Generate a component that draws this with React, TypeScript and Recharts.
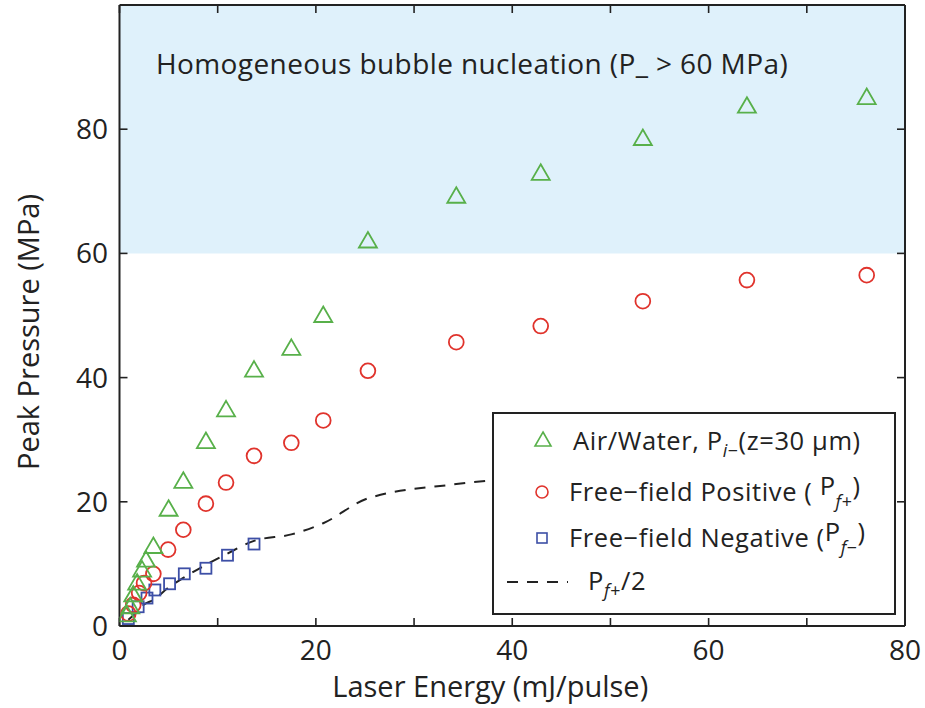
import React from 'react';
import { ComposedChart, Scatter, Line, XAxis, YAxis, ReferenceArea } from 'recharts';

const FONT = '"Open Sans", "DejaVu Sans", sans-serif';
const INK = '#222';
const GREEN = '#58b04a';
const RED = '#e0332c';
const BLUE = '#3d4fa6';
const REGION = '#dff1fb';

// Energies (mJ/pulse) and peak pressures (MPa)
const airWaterEnergy = [0.75, 1.1, 1.4, 1.8, 2.3, 2.7, 3.45, 5.0, 6.5, 8.8, 10.85, 13.7, 17.5, 20.75, 25.3, 34.3, 42.9, 53.3, 63.9, 76.1];
const airWaterPressure = [1.8, 3.1, 5.0, 6.9, 9.0, 10.6, 12.8, 18.8, 23.3, 29.7, 34.8, 41.2, 44.7, 50.0, 62.0, 69.2, 72.9, 78.5, 83.7, 85.1];

const positiveEnergy = [0.9, 1.4, 2.0, 2.5, 3.45, 4.95, 6.5, 8.8, 10.85, 13.7, 17.5, 20.75, 25.3, 34.3, 42.9, 53.3, 63.9, 76.1];
const positivePressure = [2.0, 3.4, 5.3, 6.9, 8.4, 12.3, 15.5, 19.7, 23.1, 27.4, 29.5, 33.1, 41.1, 45.7, 48.3, 52.3, 55.7, 56.5];

const negativeEnergy = [0.9, 1.9, 2.8, 3.6, 5.1, 6.6, 8.8, 11.0, 13.7];
const negativePressure = [1.2, 3.1, 4.5, 5.8, 6.8, 8.4, 9.3, 11.4, 13.2];

const halfEnergy = [0.9, 1.4, 2.0, 2.5, 3.45, 4.95, 6.5, 8.8, 10.85, 13.7, 17.5, 20.75, 25.3, 34.3, 42.9, 53.3, 63.9, 76.1];
const halfPressure = [1.0, 1.7, 2.65, 3.45, 4.2, 6.15, 7.75, 9.85, 11.55, 13.7, 14.75, 16.55, 20.55, 22.85, 24.15, 26.15, 27.85, 28.25];

const xTicks = [0, 10, 20, 30, 40, 50, 60, 70, 80];
const yTicks = [0, 20, 40, 60, 80];

const zip = (xs: number[], ys: number[]) => xs.map((x, i) => ({ x, y: ys[i] }));
const airWater = zip(airWaterEnergy, airWaterPressure);
const positive = zip(positiveEnergy, positivePressure);
const negative = zip(negativeEnergy, negativePressure);
const half = zip(halfEnergy, halfPressure);

const TriangleShape = (p: any) => {
  const { cx, cy } = p;
  if (cx == null || cy == null) return <g />;
  return (
    <path
      d={`M${cx},${cy - 9} L${cx + 9},${cy + 6.5} L${cx - 9},${cy + 6.5} Z`}
      fill="none"
      stroke={GREEN}
      strokeWidth={1.8}
    />
  );
};
const CircleShape = (p: any) => {
  const { cx, cy } = p;
  if (cx == null || cy == null) return <g />;
  return <circle cx={cx} cy={cy} r={7.4} fill="none" stroke={RED} strokeWidth={1.8} />;
};
const SquareShape = (p: any) => {
  const { cx, cy } = p;
  if (cx == null || cy == null) return <g />;
  return <rect x={cx - 5.5} y={cy - 5.5} width={11} height={11} fill="none" stroke={BLUE} strokeWidth={1.8} />;
};

const BottomTick = (props: any) => {
  const { x, y, payload } = props;
  if (payload.value % 20 !== 0) return <g />;
  return (
    <text x={x} y={y} dy="0.72em" textAnchor="middle" fontSize={28} fontFamily={FONT} fill={INK}>
      {payload.value}
    </text>
  );
};
const LeftTick = (props: any) => {
  const { x, y, payload } = props;
  return (
    <text x={x} y={y} dy="0.36em" textAnchor="end" fontSize={28} fontFamily={FONT} fill={INK}>
      {payload.value}
    </text>
  );
};
const NoTick = () => <g />;

const axisLine = { stroke: INK, strokeWidth: 2 };
const tickLine = { stroke: INK, strokeWidth: 1.6 };

const sub: React.CSSProperties = { fontSize: '0.7em', position: 'relative', top: '0.38em' };
const raised: React.CSSProperties = { position: 'relative', top: '-0.22em' };
const row: React.CSSProperties = { position: 'absolute', lineHeight: '30px', whiteSpace: 'nowrap', letterSpacing: 0.6 };

const LegendBox = () => (
  <div
    style={{
      position: 'absolute',
      left: 492,
      top: 412,
      width: 404,
      height: 203,
      border: `2px solid ${INK}`,
      boxSizing: 'border-box',
      background: '#fff',
      fontFamily: FONT,
      fontSize: 25.5,
      color: INK,
    }}
  >
    <svg width={400} height={199} style={{ position: 'absolute', left: 0, top: 0 }}>
      <path d="M49,18 L57,32 L41,32 Z" fill="none" stroke={GREEN} strokeWidth={1.6} />
      <circle cx={48} cy={78} r={6} fill="none" stroke={RED} strokeWidth={1.6} />
      <rect x={43} y={119} width={10} height={10} fill="none" stroke={BLUE} strokeWidth={1.6} />
      <line x1={13} y1={168} x2={74} y2={168} stroke={INK} strokeWidth={2} strokeDasharray="11 9" />
    </svg>
    <div style={{ ...row, left: 79, top: 11 }}>
      Air/Water, P<span style={sub}><i>i</i>−</span>(z=30 μm)
    </div>
    <div style={{ ...row, left: 75, top: 62 }}>
      Free−field Positive ( <span style={raised}>P</span><span style={sub}><i>f</i>+</span><span style={raised}>)</span>
    </div>
    <div style={{ ...row, left: 75, top: 108 }}>
      Free−field Negative (<span style={raised}>P</span><span style={sub}><i>f</i>−</span><span style={raised}>)</span>
    </div>
    <div style={{ ...row, left: 94, top: 151 }}>
      P<span style={sub}><i>f</i>+</span>/2
    </div>
  </div>
);

export default function App() {
  return (
    <div style={{ position: 'absolute', left: 0, top: 0, width: 925, height: 708, background: '#fff' }}>
      <ComposedChart width={925} height={708} margin={{ top: 4, right: 19, bottom: 22, left: 19.5 }}>
        <XAxis
          xAxisId={0}
          dataKey="x"
          type="number"
          domain={[0, 80]}
          ticks={xTicks}
          interval={0}
          allowDataOverflow
          height={60}
          tickSize={-8}
          tickMargin={22}
          axisLine={axisLine}
          tickLine={tickLine}
          tick={<BottomTick />}
          label={(p: any) => {
            const vb = p.viewBox;
            return (
              <text x={vb.x + vb.width / 2 - 22} y={697} textAnchor="middle" fontSize={29} fontFamily={FONT} fill={INK}>
                Laser Energy (mJ/pulse)
              </text>
            );
          }}
        />
        <XAxis
          xAxisId="t"
          orientation="top"
          dataKey="x"
          type="number"
          domain={[0, 80]}
          ticks={xTicks}
          interval={0}
          allowDataOverflow
          height={1}
          tickSize={-8}
          axisLine={axisLine}
          tickLine={tickLine}
          tick={<NoTick />}
        />
        <YAxis
          yAxisId={0}
          dataKey="y"
          type="number"
          domain={[0, 100]}
          ticks={yTicks}
          interval={0}
          allowDataOverflow
          width={100}
          tickSize={-8}
          tickMargin={19.5}
          axisLine={axisLine}
          tickLine={tickLine}
          tick={<LeftTick />}
          label={() => (
            <text
              x={39}
              y={332}
              transform="rotate(-90, 39, 332)"
              textAnchor="middle"
              fontSize={29}
              fontFamily={FONT}
              fill={INK}
            >
              Peak Pressure (MPa)
            </text>
          )}
        />
        <YAxis
          yAxisId="r"
          orientation="right"
          dataKey="y"
          type="number"
          domain={[0, 100]}
          ticks={yTicks}
          interval={0}
          allowDataOverflow
          width={1}
          tickSize={-8}
          axisLine={axisLine}
          tickLine={tickLine}
          tick={<NoTick />}
        />
        <ReferenceArea
          xAxisId={0}
          yAxisId={0}
          x1={0}
          x2={80}
          y1={60}
          y2={100}
          fill={REGION}
          fillOpacity={1}
          stroke="none"
          label={(p: any) => {
            const vb = p.viewBox;
            return (
              <text x={vb.x + 36.5} y={vb.y + 69} fontSize={28} fontFamily={FONT} fill={INK} letterSpacing={0.4}>
                Homogeneous bubble nucleation (P_ &gt; 60 MPa)
              </text>
            );
          }}
        />
        <Line
          xAxisId={0}
          yAxisId={0}
          data={half}
          dataKey="y"
          type="monotone"
          stroke={INK}
          strokeWidth={2}
          strokeDasharray="11 9"
          dot={false}
          activeDot={false}
          isAnimationActive={false}
        />
        <Scatter xAxisId={0} yAxisId={0} data={negative} dataKey="y" shape={<SquareShape />} isAnimationActive={false} />
        <Scatter xAxisId={0} yAxisId={0} data={positive} dataKey="y" shape={<CircleShape />} isAnimationActive={false} />
        <Scatter xAxisId={0} yAxisId={0} data={airWater} dataKey="y" shape={<TriangleShape />} isAnimationActive={false} />
      </ComposedChart>
      <LegendBox />
    </div>
  );
}
